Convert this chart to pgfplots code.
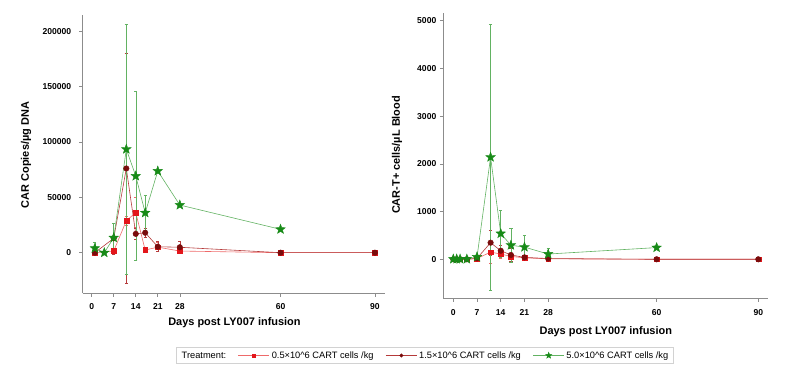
\documentclass[border=0pt]{standalone}
\usepackage{fontspec}
\setmainfont{Liberation Sans}
\usepackage{pgfplots}
\pgfplotsset{compat=1.18}
\usepackage{pgfplotstable}

\definecolor{redM}{HTML}{E3161B}
\definecolor{redL}{HTML}{EE6A6A}
\definecolor{drM}{HTML}{7A0C0C}
\definecolor{drL}{HTML}{B53A3A}
\definecolor{grM}{HTML}{178A17}
\definecolor{grL}{HTML}{62B262}
\definecolor{axgray}{HTML}{8C8C8C}

\pgfdeclareplotmark{fstar}{%
  \pgfpathmoveto{\pgfqpointpolar{90}{\pgfplotmarksize}}%
  \pgfpathlineto{\pgfqpointpolar{126}{0.42\pgfplotmarksize}}%
  \pgfpathlineto{\pgfqpointpolar{162}{\pgfplotmarksize}}%
  \pgfpathlineto{\pgfqpointpolar{198}{0.42\pgfplotmarksize}}%
  \pgfpathlineto{\pgfqpointpolar{234}{\pgfplotmarksize}}%
  \pgfpathlineto{\pgfqpointpolar{270}{0.42\pgfplotmarksize}}%
  \pgfpathlineto{\pgfqpointpolar{306}{\pgfplotmarksize}}%
  \pgfpathlineto{\pgfqpointpolar{342}{0.42\pgfplotmarksize}}%
  \pgfpathlineto{\pgfqpointpolar{18}{\pgfplotmarksize}}%
  \pgfpathlineto{\pgfqpointpolar{54}{0.42\pgfplotmarksize}}%
  \pgfpathclose
  \pgfusepathqfillstroke}

% ---------------- data: left (CAR copies / ug DNA) ----------------
\pgfplotstableread{
x  y      e
1  0      500
7  1500   1500
11 28900  4000
14 36100  13500
17 2400   2000
21 5000   4000
28 1500   1000
60 0      200
90 0      100
}\LredA
\pgfplotstableread{
x  y      e
1  0      500
7  13000  14000
11 76000  104000
14 17000  5000
17 18000  4000
21 5400   4500
28 4900   5000
60 0      300
90 0      200
}\LdrA
\pgfplotstableread{
x  y      e
1  4000   5000
4  0      500
7  13500  13000
11 93400  112600
14 69200  76300
17 36000  16000
21 73700  0
28 43000  0
60 21100  0
}\LgrA
% ---------------- data: right (CAR-T+ cells / uL blood) ----------------
\pgfplotstableread{
x  y    e
0  0    0
1  0    0
2  0    0
4  0    0
7  15   10
11 150  230
14 110  80
17 60   60
21 30   30
28 10   10
60 0    0
90 0    0
}\RredA
\pgfplotstableread{
x  y    e
0  0    0
1  0    0
2  0    0
4  0    0
7  20   15
11 348  265
14 180  110
17 90   140
21 40   40
28 15   15
60 0    0
90 0    0
}\RdrA
\pgfplotstableread{
x  y     e
0  5     5
1  5     5
2  5     5
4  5     5
7  50    30
11 2140  2790
14 540   490
17 295   355
21 255   250
28 110   120
60 245   0
}\RgrA

\pgfplotsset{
  base/.style={
    scale only axis,
    axis x line*=bottom, axis y line*=left,
    axis line style={axgray, line width=0.8pt, -},
    tick style={axgray, line width=0.6pt},
    tick align=outside,
    major tick length=3.5bp,
    xtick={0,7,14,21,28,60,90},
    ticklabel style={font=\fontsize{8.6}{10}\selectfont\bfseries},
    /pgf/number format/assume math mode=true,
    /pgf/number format/fixed,
    /pgf/number format/1000 sep={},
    scaled y ticks=false,
    label style={font=\fontsize{11}{13}\selectfont\bfseries},
    clip=false,
    legend image code/.code={%
      \draw[mark repeat=2,mark phase=2,##1] plot coordinates {(0bp,0bp) (15.5bp,0bp) (31bp,0bp)};},
  },
  s05/.style={color=redL, line width=0.6pt, mark=square*, mark size=2.4bp,
    mark options={fill=redM, draw=redM, solid, line width=0.4pt},
    error bars/y dir=both, error bars/y explicit,
    error bars/error bar style={redL, line width=0.5pt},
    error bars/error mark options={rotate=90, redL, mark size=1.6bp, line width=0.5pt}},
  s15/.style={color=drL, line width=0.6pt, mark=*, mark size=2.8bp,
    mark options={fill=drM, draw=drM, solid, line width=0.4pt},
    error bars/y dir=both, error bars/y explicit,
    error bars/error bar style={drL, line width=0.5pt},
    error bars/error mark options={rotate=90, drL, mark size=1.6bp, line width=0.5pt}},
  s50/.style={color=grL, line width=0.6pt, mark=fstar, mark size=5bp,
    mark options={fill=grM, draw=grM, solid, line width=0.4pt},
    error bars/y dir=both, error bars/y explicit,
    error bars/error bar style={grL, line width=0.5pt},
    error bars/error mark options={rotate=90, grL, mark size=1.6bp, line width=0.5pt}},
}

\begin{document}
\begin{tikzpicture}
\useasboundingbox (0,0) rectangle (787bp,375bp);

% ---------------- left panel ----------------
\begin{axis}[base,
  at={(82.7bp,82bp)}, anchor=south west,
  width=302.3bp, height=278bp,
  xmin=-2.86, xmax=93.2,
  ymin=-36370, ymax=214500,
  ytick={0,50000,100000,150000,200000},
  yticklabel style={xshift=-4.5bp},
  xticklabel style={yshift=-3.5bp},
  xlabel={Days post LY007 infusion},
  ylabel={CAR Copies/\textmu g DNA},
  xlabel style={at={(axis description cs:0.502,-0.108)}, anchor=center},
  ylabel style={at={(axis description cs:-0.1876,0.496)}, anchor=center, rotate=0},
  legend columns=4,
  legend cell align=left,
  legend style={at={(axis description cs:1.1323,-0.2248)}, anchor=center,
    draw=gray!35, line width=0.6pt, font=\fontsize{9.3}{10}\selectfont,
    inner xsep=3bp, inner ysep=1.5bp,
    nodes={text depth=0.2em, text height=0.75em},
    /tikz/every even column/.append style={column sep=10bp}},
]
\addlegendimage{empty legend}
\addlegendentry{Treatment:}
\addplot[s05, legend image post style={mark size=1.6bp}] table[x=x, y=y, y error=e] {\LredA};
\addlegendentry{0.5×10\^{}6 CART cells /kg}
\addplot[s15, legend image post style={mark size=1.8bp}] table[x=x, y=y, y error=e] {\LdrA};
\addlegendentry{1.5×10\^{}6 CART cells /kg}
\addplot[s50, legend image post style={mark size=3.2bp}] table[x=x, y=y, y error=e] {\LgrA};
\addlegendentry{5.0×10\^{}6 CART cells /kg}
\end{axis}

% ---------------- right panel ----------------
\begin{axis}[base,
  at={(443.3bp,76.7bp)}, anchor=south west,
  width=325bp, height=285bp,
  xmin=-2.95, xmax=92.95,
  ymin=-818, ymax=5157,
  ytick={0,1000,2000,3000,4000,5000},
  xticklabel style={yshift=-4.5bp},
  xlabel={Days post LY007 infusion},
  ylabel={CAR-T+ cells/\textmu L Blood},
  xlabel style={at={(axis description cs:0.5,-0.118)}, anchor=center},
  ylabel style={at={(axis description cs:-0.1425,0.503)}, anchor=center, rotate=0},
]
\addplot[s05] table[x=x, y=y, y error=e] {\RredA};
\addplot[s15] table[x=x, y=y, y error=e] {\RdrA};
\addplot[s50] table[x=x, y=y, y error=e] {\RgrA};
\end{axis}
\end{tikzpicture}
\end{document}
